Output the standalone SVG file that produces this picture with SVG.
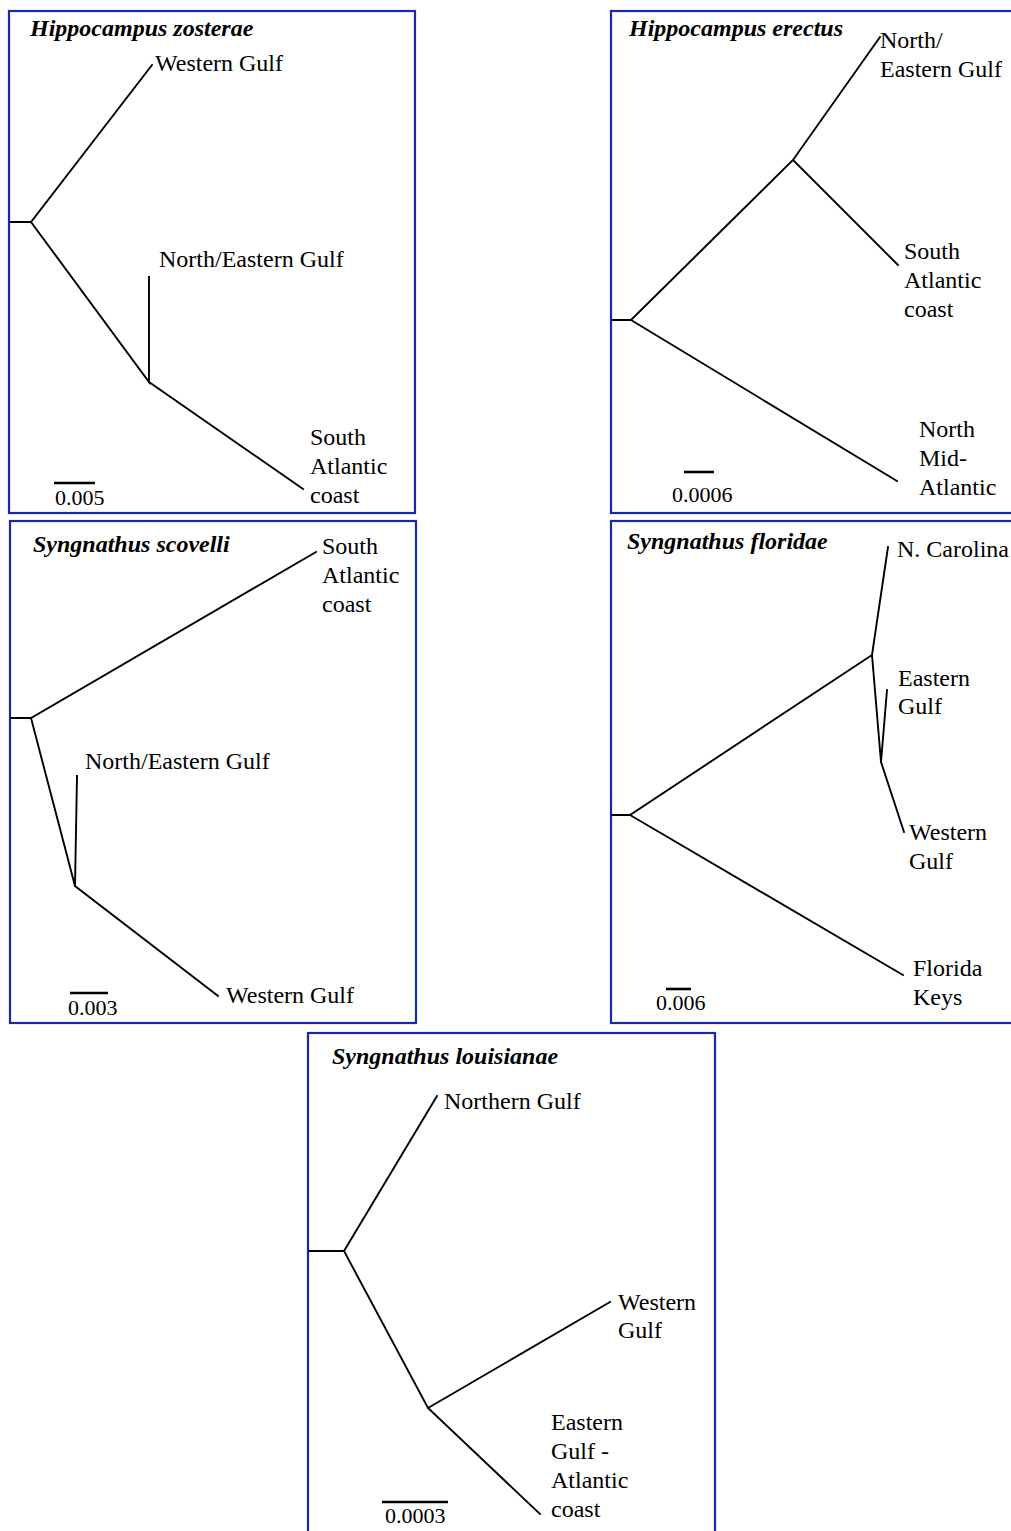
<svg xmlns="http://www.w3.org/2000/svg" width="1011" height="1531" viewBox="0 0 1011 1531">
<style>
.frame{fill:none;stroke:#1428a8;stroke-width:2.2}
.br{stroke:#000;stroke-width:1.9;fill:none;stroke-linecap:square}
.sb{stroke:#000;stroke-width:2.6}
text{font-family:'Liberation Serif','DejaVu Serif',serif;fill:#000}
.lbl{font-size:24px}
.sc{font-size:22px}
.ttl{font-size:24px;font-weight:bold;font-style:italic}
</style>
<rect width="1011" height="1531" fill="#fff"/>

<g id="panel-hippocampus-zosterae">
<rect class="frame" x="9" y="11" width="406" height="502"/>
<text class="ttl" x="30" y="36">Hippocampus zosterae</text>
<text class="lbl" x="155" y="71">Western Gulf</text>
<text class="lbl" x="159" y="267">North/Eastern Gulf</text>
<text class="lbl" x="310" y="445">South</text>
<text class="lbl" x="310" y="474">Atlantic</text>
<text class="lbl" x="310" y="503">coast</text>
<line class="sb" x1="54" y1="483" x2="95" y2="483"/>
<text class="sc" x="55" y="505">0.005</text>
</g>

<g id="panel-hippocampus-erectus">
<rect class="frame" x="611" y="11" width="405" height="502"/>
<text class="ttl" x="629" y="36">Hippocampus erectus</text>
<text class="lbl" x="880" y="48">North/</text>
<text class="lbl" x="880" y="77">Eastern Gulf</text>
<text class="lbl" x="904" y="259">South</text>
<text class="lbl" x="904" y="288">Atlantic</text>
<text class="lbl" x="904" y="317">coast</text>
<text class="lbl" x="919" y="437">North</text>
<text class="lbl" x="919" y="466">Mid-</text>
<text class="lbl" x="919" y="495">Atlantic</text>
<line class="sb" x1="684" y1="472" x2="714" y2="472"/>
<text class="sc" x="672" y="502">0.0006</text>
</g>

<g id="panel-syngnathus-scovelli">
<rect class="frame" x="10" y="521" width="406" height="502"/>
<text class="ttl" x="33" y="552">Syngnathus scovelli</text>
<text class="lbl" x="322" y="554">South</text>
<text class="lbl" x="322" y="583">Atlantic</text>
<text class="lbl" x="322" y="612">coast</text>
<text class="lbl" x="85" y="769">North/Eastern Gulf</text>
<text class="lbl" x="226" y="1003">Western Gulf</text>
<line class="sb" x1="70" y1="993" x2="108" y2="993"/>
<text class="sc" x="68" y="1015">0.003</text>
</g>

<g id="panel-syngnathus-floridae">
<rect class="frame" x="611" y="521" width="405" height="502"/>
<text class="ttl" x="627" y="549">Syngnathus floridae</text>
<text class="lbl" x="897" y="557">N. Carolina</text>
<text class="lbl" x="898" y="686">Eastern</text>
<text class="lbl" x="898" y="714">Gulf</text>
<text class="lbl" x="909" y="840">Western</text>
<text class="lbl" x="909" y="869">Gulf</text>
<text class="lbl" x="913" y="976">Florida</text>
<text class="lbl" x="913" y="1005">Keys</text>
<line class="sb" x1="666" y1="989" x2="691" y2="989"/>
<text class="sc" x="656" y="1010">0.006</text>
</g>

<g id="panel-syngnathus-louisianae">
<rect class="frame" x="308" y="1033" width="407" height="502"/>
<text class="ttl" x="332" y="1064">Syngnathus louisianae</text>
<text class="lbl" x="444" y="1109">Northern Gulf</text>
<text class="lbl" x="618" y="1310">Western</text>
<text class="lbl" x="618" y="1338">Gulf</text>
<text class="lbl" x="551" y="1430">Eastern</text>
<text class="lbl" x="551" y="1459">Gulf -</text>
<text class="lbl" x="551" y="1488">Atlantic</text>
<text class="lbl" x="551" y="1517">coast</text>
<line class="sb" x1="382" y1="1502" x2="448" y2="1502"/>
<text class="sc" x="385" y="1523">0.0003</text>
</g>

<g id="connectors">
<path class="br" d="M10,222 H31 L152,65 M31,222 L149,382 L149,277 M149,382 L303,489"/>
<path class="br" d="M612,320 H631 L793,160 L880,37 M793,160 L898,265 M631,320 L897,481"/>
<path class="br" d="M11,718 H31 L316,552 M31,718 L75,886 L77,776 M75,886 L218,996"/>
<path class="br" d="M612,815 H630 L872,655 L888,547 M872,655 L881,762 L887,690 M881,762 L904,832 M630,815 L903,975"/>
<path class="br" d="M309,1251 H344 L437,1096 M344,1251 L428,1408 L610,1302 M428,1408 L540,1514"/>
</g>
</svg>
